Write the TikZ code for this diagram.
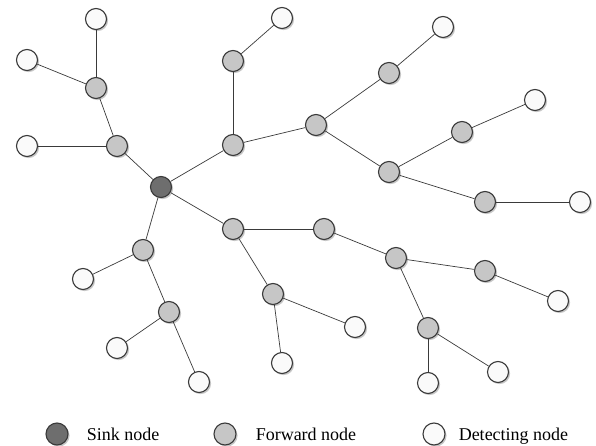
\documentclass[tikz,border=0pt]{standalone}
\usepackage{fontspec}
\setmainfont{Liberation Serif}
\usepackage{tikz}
\usetikzlibrary{positioning, shadows}
\definecolor{WS_LINE}{HTML}{3a3a3a}
\definecolor{WS_SINK}{HTML}{6e6e6e}
\definecolor{WS_FWD}{HTML}{c6c6c6}
\definecolor{WS_DET}{HTML}{fafafa}
\tikzset{
  wsn/.style={
    circle, minimum size=21pt, inner sep=0pt,
    draw=WS_LINE, line width=1.1pt,
    drop shadow={shadow xshift=1.6pt, shadow yshift=-1.6pt, opacity=0.22, fill=black}},
  sinknode/.style={wsn, fill=WS_SINK},
  fwdnode/.style={wsn, fill=WS_FWD},
  detnode/.style={wsn, fill=WS_DET},
  link/.style={draw=WS_LINE, line width=0.7pt},
  lgd/.style={
    inner sep=0pt, text height=13pt, text depth=0pt,
    font=\fontsize{18}{20}\selectfont},
}
\begin{document}
\begin{tikzpicture}[x=1pt, y=-1pt]

  \useasboundingbox (0,0) rectangle (596,446);

  % sink
  \node[sinknode] (s) at (161,187) {};

  % forward nodes
  \node[fwdnode] (f1)  at (117,146) {};
  \node[fwdnode] (f2)  at (96,88)   {};
  \node[fwdnode] (f3)  at (233,145) {};
  \node[fwdnode] (f4)  at (233,61)  {};
  \node[fwdnode] (f5)  at (316,125) {};
  \node[fwdnode] (f6)  at (389,73)  {};
  \node[fwdnode] (f7)  at (389,172) {};
  \node[fwdnode] (f8)  at (462,132) {};
  \node[fwdnode] (f9)  at (485,202) {};
  \node[fwdnode] (f10) at (233,229) {};
  \node[fwdnode] (f11) at (324,229) {};
  \node[fwdnode] (f12) at (396,258) {};
  \node[fwdnode] (f13) at (485,271) {};
  \node[fwdnode] (f14) at (428,328) {};
  \node[fwdnode] (f15) at (273,294) {};
  \node[fwdnode] (f16) at (143,250) {};
  \node[fwdnode] (f17) at (169,312) {};

  % detecting nodes
  \node[detnode] (d1)  at (96,19)   {};
  \node[detnode] (d2)  at (27,60)   {};
  \node[detnode] (d3)  at (27,146)  {};
  \node[detnode] (d4)  at (282,18)  {};
  \node[detnode] (d5)  at (443,27)  {};
  \node[detnode] (d6)  at (535,100) {};
  \node[detnode] (d7)  at (580,202) {};
  \node[detnode] (d8)  at (558,301) {};
  \node[detnode] (d9)  at (428,383) {};
  \node[detnode] (d10) at (498,372) {};
  \node[detnode] (d11) at (355,327) {};
  \node[detnode] (d12) at (282,363) {};
  \node[detnode] (d13) at (83,279)  {};
  \node[detnode] (d14) at (117,348) {};
  \node[detnode] (d15) at (199,382) {};

  % links
  \foreach \a/\b in {s/f1, f1/f2, f1/d3, f2/d1, f2/d2,
                     s/f3, f3/f4, f4/d4, f3/f5, f5/f6, f6/d5,
                     f5/f7, f7/f8, f8/d6, f7/f9, f9/d7,
                     s/f10, f10/f11, f11/f12, f12/f13, f13/d8,
                     f12/f14, f14/d9, f14/d10, f10/f15, f15/d11, f15/d12,
                     s/f16, f16/d13, f16/f17, f17/d14, f17/d15}
    \draw[link] (\a) -- (\b);

  % legend
  \node[sinknode, minimum size=22pt] (lsink) at (57,434) {};
  \node[lgd, right=18pt of lsink] (tsink) {Sink node};

  \node[fwdnode, minimum size=22pt] (lfwd) at (225,434) {};
  \node[lgd, right=19pt of lfwd] (tfwd) {Forward node};

  \node[detnode, minimum size=22pt] (ldet) at (434,434) {};
  \node[lgd, right=13pt of ldet] (tdet) {Detecting node};

\end{tikzpicture}
\end{document}
